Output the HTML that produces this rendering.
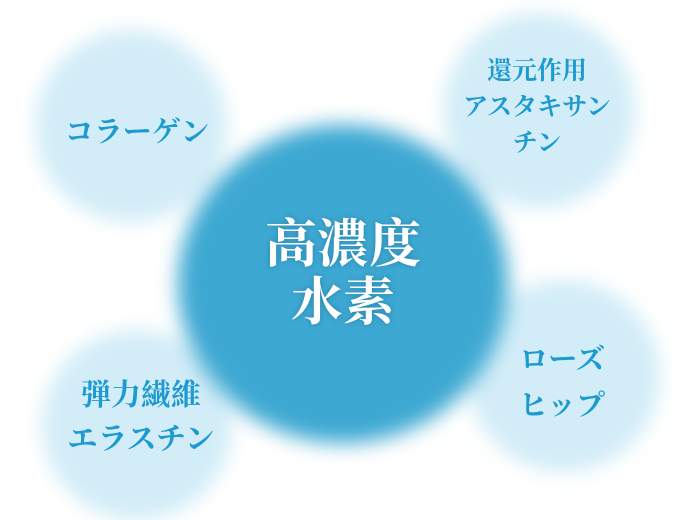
<!DOCTYPE html>
<html><head><meta charset="utf-8"><style>
html,body{margin:0;padding:0;background:#fff;}
#c{position:relative;width:690px;height:520px;overflow:hidden;background:#fff;}
.b{position:absolute;border-radius:50%;filter:blur(9px);}
.s{background:#d3edf8;}
.t{position:absolute;font-family:"Liberation Serif","Noto Serif CJK SC",serif;font-weight:bold;color:#1d9bd0;text-align:center;white-space:nowrap;transform:translate(-50%,-50%);}
</style></head><body><div id="c">
<div class="b s" style="left:35px;top:30px;width:192px;height:192px"></div>
<div class="b s" style="left:443px;top:13px;width:192px;height:195px"></div>
<div class="b s" style="left:468px;top:280px;width:192px;height:192px"></div>
<div class="b s" style="left:42px;top:330px;width:190px;height:190px"></div>
<div class="b" style="left:178px;top:125px;width:330px;height:318px;background:#3da8d2;filter:blur(10px)"></div>
<div class="t" style="left:137px;top:130px;font-size:29px;">コラーゲン</div>
<div class="t" style="left:537px;top:108px;font-size:25px;line-height:36px;">還元作用<br>アスタキサン<br>チン</div>
<div class="t" style="left:562px;top:383px;font-size:29px;line-height:46px;">ローズ<br>ヒップ</div>
<div class="t" style="left:141px;top:418px;font-size:30px;line-height:44px;">弾力繊維<br>エラスチン</div>
<div class="t" style="left:343px;top:275px;font-size:52px;line-height:58px;color:#fff;text-shadow:0 0 6px rgba(0,60,100,.35);">高濃度<br>水素</div>
</div></body></html>
